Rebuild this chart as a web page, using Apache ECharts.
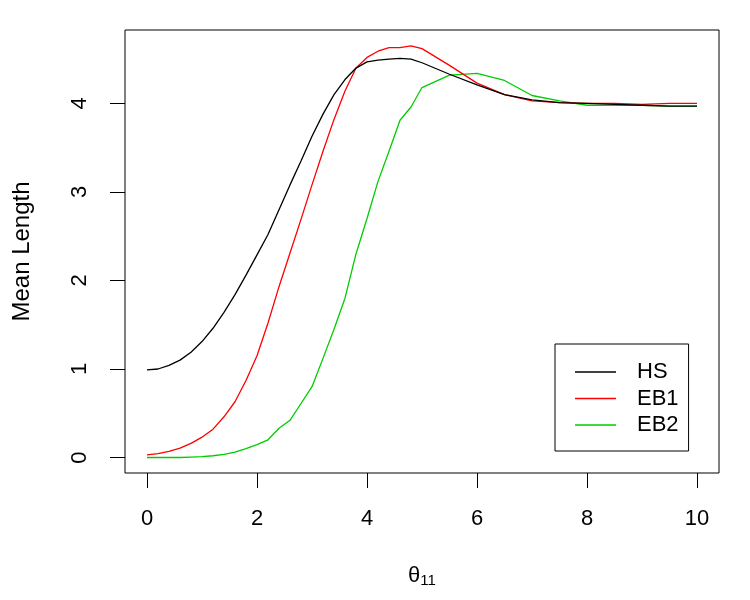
<!DOCTYPE html>
<html>
<head>
<meta charset="utf-8">
<script src="https://cdn.jsdelivr.net/npm/echarts@6/dist/echarts.min.js"></script>
<style>html,body{margin:0;padding:0;background:#fff}#c{width:750px;height:600px}</style>
</head>
<body>
<div id="c"></div>
<script>
var theta = [0,0.2,0.4,0.6,0.8,1.0,1.2,1.4,1.6,1.8,2.0,2.2,2.4,2.6,2.8,3.0,3.2,3.4,3.6,3.8,4.0,4.2,4.4,4.6,4.8,5.0,5.5,6,6.5,7,7.5,8,8.5,9,9.5,10];
var HS  = [0.99,1.00,1.04,1.10,1.19,1.31,1.46,1.64,1.84,2.06,2.29,2.52,2.80,3.08,3.35,3.63,3.88,4.10,4.27,4.40,4.47,4.49,4.50,4.51,4.50,4.46,4.33,4.21,4.10,4.04,4.01,4.00,3.99,3.98,3.97,3.97];
var EB1 = [0.03,0.045,0.07,0.105,0.16,0.23,0.32,0.46,0.63,0.87,1.15,1.52,1.93,2.31,2.69,3.08,3.46,3.82,4.14,4.40,4.52,4.59,4.63,4.63,4.65,4.62,4.43,4.23,4.10,4.03,4.01,4.00,4.00,3.99,4.00,4.00];
var EB2 = [0.00,0.00,0.00,0.00,0.005,0.01,0.02,0.035,0.06,0.10,0.145,0.20,0.33,0.42,0.61,0.80,1.12,1.45,1.80,2.30,2.70,3.12,3.46,3.81,3.96,4.18,4.32,4.34,4.26,4.09,4.03,3.98,3.98,3.98,3.97,3.97];
var xTicks = [0,2,4,6,8,10];
var yTicks = [0,1,2,3,4];
var seriesNames = ['HS','EB1','EB2'];
var seriesColors = ['#000000','#FF0000','#00CD00'];

function pairs(v){ return theta.map(function(t,i){ return [t, v[i]]; }); }
var values = [HS, EB1, EB2];
var FONT = '"Liberation Sans", Arial, Helvetica, sans-serif';

var chart = echarts.init(document.getElementById('c'), null, {renderer:'canvas'});
chart.setOption({
  animation: false,
  backgroundColor: '#ffffff',
  textStyle: { fontFamily: FONT },
  grid: { left: 125, top: 30, right: 31, bottom: 127, show: true, borderColor: '#000', borderWidth: 1, backgroundColor: 'transparent' },
  xAxis: {
    type: 'value', min: -0.4, max: 10.4,
    axisLine: { show: false, onZero: false },
    splitLine: { show: false },
    axisTick: { show: true, inside: false, length: 15, customValues: xTicks, lineStyle: { color: '#000', width: 1 } },
    axisLabel: { customValues: xTicks, color: '#000', fontSize: 22, fontFamily: FONT, margin: 35 },
    name: '{t|θ}{s|11}',
    nameLocation: 'middle', nameGap: 90,
    nameTextStyle: { color: '#000', rich: {
      t: { fontSize: 22, fontFamily: FONT, color: '#000' },
      s: { fontSize: 15, fontFamily: FONT, color: '#000', padding: [10,0,0,0] }
    } }
  },
  yAxis: {
    type: 'value', min: -0.175, max: 4.83,
    axisLine: { show: false, onZero: false },
    splitLine: { show: false },
    axisTick: { show: true, inside: false, length: 15, customValues: yTicks, lineStyle: { color: '#000', width: 1 } },
    axisLabel: { customValues: yTicks, color: '#000', fontSize: 22, fontFamily: FONT, rotate: 90, margin: 34 },
    name: 'Mean Length', nameLocation: 'middle', nameGap: 91,
    nameTextStyle: { color: '#000', fontSize: 24, fontFamily: FONT }
  },
  legend: {
    orient: 'vertical', left: 555, top: 344,
    data: seriesNames,
    icon: 'rect',
    borderColor: '#000', borderWidth: 1, borderRadius: 0,
    padding: [17, 10, 15, 20],
    itemWidth: 41, itemHeight: 1.4, itemGap: 4.5,
    textStyle: { color: '#000', fontSize: 22, lineHeight: 22, fontFamily: FONT, padding: [0,0,0,16] }
  },
  series: seriesNames.map(function(n, k){
    return {
      name: n, type: 'line', data: pairs(values[k]),
      symbol: 'none', showSymbol: false, smooth: false,
      lineStyle: { color: seriesColors[k], width: 1.3 },
      itemStyle: { color: seriesColors[k] },
      z: 3 - k
    };
  })
});
</script>
</body>
</html>
